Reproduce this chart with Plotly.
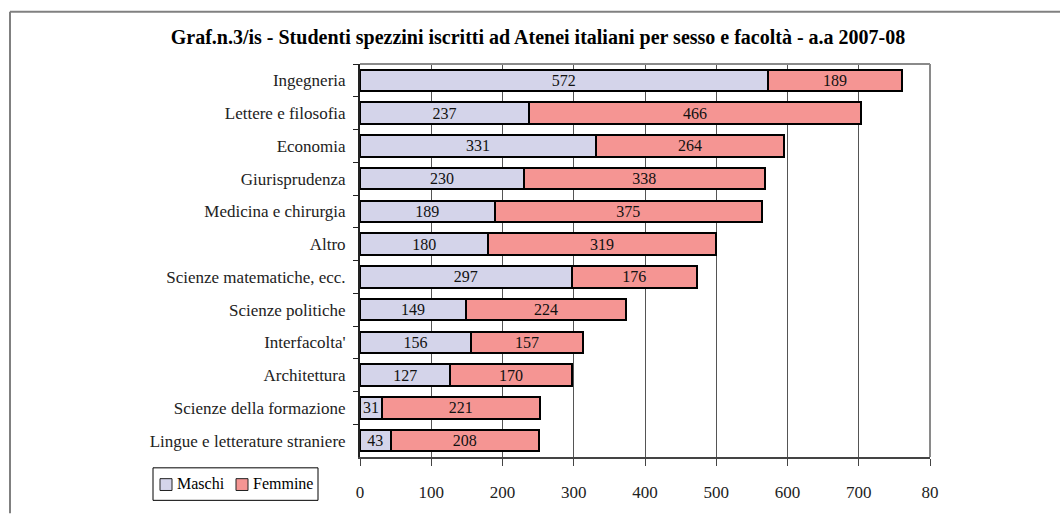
import plotly.graph_objects as go

categories = ["Ingegneria", "Lettere e filosofia", "Economia", "Giurisprudenza",
              "Medicina e chirurgia", "Altro", "Scienze matematiche, ecc.",
              "Scienze politiche", "Interfacolta'", "Architettura",
              "Scienze della formazione", "Lingue e letterature straniere"]
maschi = [572, 237, 331, 230, 189, 180, 297, 149, 156, 127, 31, 43]
femmine = [189, 466, 264, 338, 375, 319, 176, 224, 157, 170, 221, 208]
tick_vals = [0, 100, 200, 300, 400, 500, 600, 700, 800]
tick_labels = ["0", "100", "200", "300", "400", "500", "600", "700", "80"]
series_names = ["Maschi", "Femmine"]
series_colors = ["#D4D4EA", "#F59593"]

FONT = "Liberation Serif"
L, R, T, B = 360, 930, 64, 463
W, H = 1060, 514

def px_x(p):
    return (p - L) / (R - L)

def px_y(p):
    return (B - p) / (B - T)

fig = go.Figure()
for name, vals, col in zip(series_names, [maschi, femmine], series_colors):
    fig.add_trace(go.Bar(
        y=categories, x=vals, name=name, orientation="h",
        marker=dict(color=col, line=dict(color="black", width=2)),
        text=[str(v) for v in vals], textposition="inside", insidetextanchor="middle",
        textangle=0, constraintext="none",
        textfont=dict(family=FONT, size=16, color="#111111"),
        showlegend=False,
    ))

shapes = [
    # outer frame
    dict(type="line", xref="paper", yref="paper", x0=px_x(10), x1=px_x(10), y0=px_y(520), y1=px_y(11),
         line=dict(color="#808080", width=2)),
    dict(type="line", xref="paper", yref="paper", x0=px_x(10), x1=px_x(1070), y0=px_y(11), y1=px_y(11),
         line=dict(color="#808080", width=2)),
    # plot area top/right border
    dict(type="line", xref="paper", yref="paper", x0=0, x1=1, y0=1, y1=1,
         line=dict(color="#8a8a8a", width=2)),
    dict(type="line", xref="paper", yref="paper", x0=1, x1=1, y0=0, y1=1,
         line=dict(color="#8a8a8a", width=2)),
    # legend box
    dict(type="rect", xref="paper", yref="paper", x0=px_x(153), x1=px_x(318), y0=px_y(507), y1=px_y(474),
         line=dict(color="black", width=1), fillcolor="white"),
]
annotations = []
leg_sym_x = [160, 236]
leg_txt_x = [175, 251]
for name, col, sx, tx in zip(series_names, series_colors, leg_sym_x, leg_txt_x):
    shapes.append(dict(type="rect", xref="paper", yref="paper",
                       x0=px_x(sx), x1=px_x(sx + 12), y0=px_y(497), y1=px_y(485),
                       line=dict(color="#222222", width=1), fillcolor=col))
    annotations.append(dict(text=name, xref="paper", yref="paper", x=px_x(tx), y=px_y(490),
                            xanchor="left", yanchor="middle", showarrow=False,
                            font=dict(family=FONT, size=16, color="black")))

fig.update_layout(
    width=W, height=H,
    margin=dict(l=L, r=W - R, t=T, b=H - B),
    paper_bgcolor="white", plot_bgcolor="white",
    barmode="stack", bargap=0.34,
    font=dict(family=FONT, size=17, color="black"),
    title=dict(text="<b>Graf.n.3/is - Studenti spezzini iscritti ad Atenei italiani per sesso e facoltà - a.a 2007-08</b>",
               x=538 / W, xref="container", xanchor="center", y=1 - 37 / H, yanchor="middle",
               font=dict(family=FONT, size=20, color="black")),
    xaxis=dict(range=[0, 800], tickvals=tick_vals, ticktext=tick_labels,
               showgrid=True, gridcolor="#555555", gridwidth=1,
               showline=True, linecolor="#444444", linewidth=2,
               ticks="outside", ticklen=7, tickcolor="#444444", tickwidth=1,
               ticklabelstandoff=12,
               zeroline=False, tickfont=dict(family=FONT, size=17, color="#222222")),
    yaxis=dict(categoryorder="array", categoryarray=categories, autorange="reversed",
               showline=True, linecolor="#222222", linewidth=2,
               ticks="outside", tickson="boundaries", ticklen=5, tickcolor="#222222",
               ticklabelstandoff=9,
               showgrid=False, tickfont=dict(family=FONT, size=17, color="#222222")),
    shapes=shapes,
    annotations=annotations,
    showlegend=False,
)

fig.write_html("out.html", config={"displayModeBar": False},
               post_script="document.body.style.margin='0';")
